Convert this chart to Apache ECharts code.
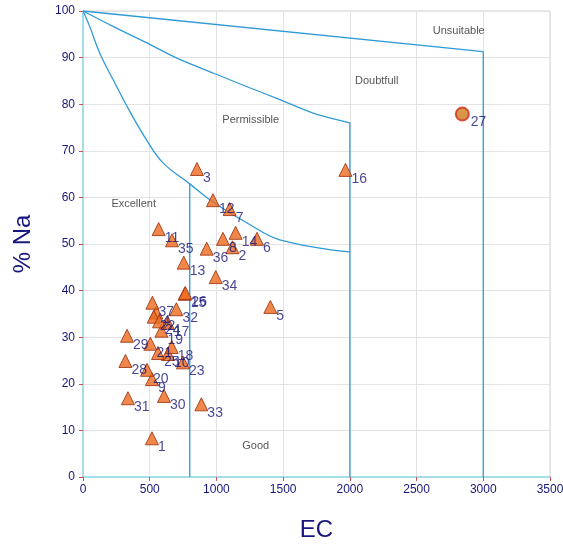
<!DOCTYPE html>
<html>
<head>
<meta charset="utf-8">
<script src="https://cdn.jsdelivr.net/npm/echarts@6/dist/echarts.min.js"></script>
<style>
  html, body { margin: 0; padding: 0; background: #fff; }
  #chart { width: 563px; height: 544px; }
</style>
</head>
<body>
<div id="chart"></div>
<script>
// Sample identifiers with their EC and % Na values
const sampleIds = ['1','2','3','4','5','6','7','8','9','10','11','12','13','14','15','16','17','18','19','20',
                   '21','22','23','24','25','26','28','29','30','31','32','33','34','35','36','37'];
const sampleEC = [517,1120,854,550,1404,1304,1099,1049,517,637,567,974,755,1144,762,1967,635,665,588,480,
                  505,530,749,570,562,767,318,330,607,337,700,887,995,667,927,520];
const sampleNa = [8.3,49.3,66.1,35.3,36.5,51.1,57.5,51.1,21.0,26.4,53.2,59.4,46.0,52.4,39.3,65.9,33.1,27.9,31.4,23.0,
                  28.6,34.4,24.6,33.4,26.6,39.5,24.9,30.3,17.4,16.9,36.0,15.6,42.9,50.8,49.0,37.4];

// Sample shown with a round marker
const specialIds = ['27'];
const specialEC = [2843];
const specialNa = [77.9];

// Class boundaries (EC, % Na)
const excellentEC = [0, 50, 125, 225, 350, 475, 600, 800, 975, 1230, 1475, 2000];
const excellentNa = [100, 96.7, 91, 85.3, 78.5, 72.4, 67.4, 62.9, 59, 54.5, 50.9, 48.3];
const permissibleEC = [0, 225, 475, 725, 975, 1225, 1475, 1725, 2000];
const permissibleNa = [100, 96.7, 93.2, 89.6, 86.7, 83.8, 81.0, 78.1, 76.0];
const doubtfulEC = [0, 3000];
const doubtfulNa = [100, 91.3];
const divider800 = [[800, 0], [800, 62.9]];
const divider2000 = [[2000, 0], [2000, 76.0]];
const divider3000 = [[3000, 0], [3000, 91.3]];

// Class names and where they are written
const classNames = ['Unsuitable', 'Doubtfull', 'Permissible', 'Excellent', 'Good'];
const classEC = [2816, 2201, 1257, 380, 1294];
const classNa = [95.8, 84.9, 76.7, 58.6, 6.7];

// Axis ticks
const ecTicks = { min: 0, max: 3500, interval: 500 };
const naTicks = { min: 0, max: 100, interval: 10 };

const zip = (a, b) => a.map((v, i) => [v, b[i]]);
const lineColor = '#2f9ad8';
const navy = '#16167c';
const font = 'Liberation Sans, Arial';

const boundaryLine = (data, smooth) => ({
  type: 'line', data, smooth, symbol: 'none', silent: true,
  lineStyle: { color: lineColor, width: 1.3 }, z: 2
});

const option = {
  animation: false,
  grid: { left: 83, right: 13, top: 11, bottom: 67, show: true, borderColor: '#d4d4d4', borderWidth: 1,
          outerBoundsMode: 'none', containLabel: false },
  xAxis: {
    type: 'value', min: ecTicks.min, max: ecTicks.max, interval: ecTicks.interval,
    name: 'EC', nameLocation: 'middle', nameGap: 41,
    nameTextStyle: { color: navy, fontSize: 24, fontFamily: font },
    axisLine: { show: true, lineStyle: { color: '#8fdcec', width: 1.5 } },
    axisTick: { show: true, length: 4, lineStyle: { color: '#d05050' } },
    axisLabel: { color: navy, fontSize: 12, margin: 7, fontFamily: font, formatter: v => String(v) },
    splitLine: { show: true, lineStyle: { color: '#e3e3e3' } }
  },
  yAxis: {
    type: 'value', min: naTicks.min, max: naTicks.max, interval: naTicks.interval,
    name: '% Na', nameLocation: 'middle', nameGap: 48, nameRotate: 90,
    nameTextStyle: { color: navy, fontSize: 24, fontFamily: font },
    axisLine: { show: true, lineStyle: { color: '#8fdcec', width: 1.5 } },
    axisTick: { show: true, length: 4, lineStyle: { color: '#d05050' } },
    axisLabel: { color: navy, fontSize: 12, margin: 8, fontFamily: font },
    splitLine: { show: true, lineStyle: { color: '#e3e3e3' } }
  },
  series: [
    boundaryLine(zip(excellentEC, excellentNa), 0.4),
    boundaryLine(zip(permissibleEC, permissibleNa), 0.3),
    boundaryLine(zip(doubtfulEC, doubtfulNa), false),
    boundaryLine(divider800, false),
    boundaryLine(divider2000, false),
    boundaryLine(divider3000, false),
    {
      type: 'scatter', silent: true, symbolSize: 0, z: 3,
      data: classNames.map((n, i) => ({ name: n, value: [classEC[i], classNa[i]] })),
      label: { show: true, position: 'inside', formatter: '{b}', color: '#2b2b2b', fontSize: 11, fontFamily: font }
    },
    {
      type: 'scatter', symbol: 'triangle', symbolSize: 13, z: 5,
      itemStyle: { color: '#ec6a1e', borderColor: '#9a2a08', borderWidth: 1 },
      data: sampleIds.map((id, i) => ({ name: id, value: [sampleEC[i], sampleNa[i]] })),
      label: { show: true, position: 'right', distance: 0, offset: [-1, 9], formatter: '{b}',
               color: navy, fontSize: 14, fontFamily: font }
    },
    {
      type: 'scatter', symbol: 'circle', symbolSize: 13, z: 5,
      itemStyle: { color: '#cf7a1c', borderColor: '#d02a18', borderWidth: 2 },
      data: specialIds.map((id, i) => ({ name: id, value: [specialEC[i], specialNa[i]] })),
      label: { show: true, position: 'right', distance: 1, offset: [0, 8], formatter: '{b}',
               color: navy, fontSize: 14, fontFamily: font }
    }
  ]
};

echarts.init(document.getElementById('chart'), null, { renderer: 'canvas' }).setOption(option);
</script>
</body>
</html>
